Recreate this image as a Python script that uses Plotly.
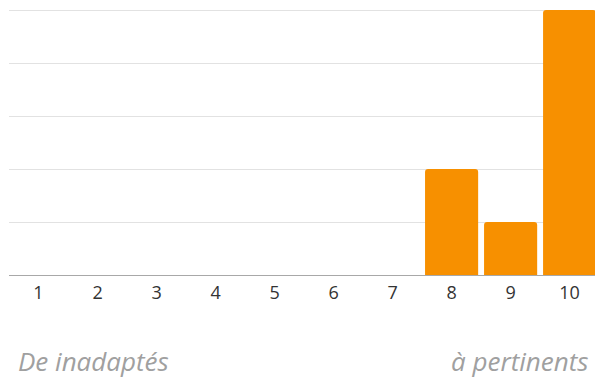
import plotly.graph_objects as go

categories = ["1", "2", "3", "4", "5", "6", "7", "8", "9", "10"]
values = [0, 0, 0, 0, 0, 0, 0, 2, 1, 5]
left_label = "De inadaptés"
right_label = "à pertinents"

fig = go.Figure(go.Bar(
    x=categories, y=values,
    marker=dict(color="#f79000", line=dict(width=0), cornerradius=3),
    hoverinfo="skip",
))

fig.update_layout(
    width=595, height=381,
    margin=dict(l=9, r=0, t=9, b=106),
    paper_bgcolor="white", plot_bgcolor="white",
    bargap=0.1,
    showlegend=False,
    font=dict(family="Open Sans", color="#333333"),
    xaxis=dict(
        type="category",
        range=[-0.5, 9.43],
        showgrid=False,
        showline=True, linecolor="#a8a8a8", linewidth=1,
        ticks="outside", ticklen=1, tickcolor="rgba(0,0,0,0)",
        tickfont=dict(size=18, color="#333333"),
        zeroline=False,
    ),
    yaxis=dict(
        range=[0, 5.02],
        tickvals=[1, 2, 3, 4, 5],
        showticklabels=False,
        showgrid=True, gridcolor="#e2e2e2", gridwidth=1,
        zeroline=False,
        showline=False,
    ),
    annotations=[
        dict(text=left_label, xref="paper", yref="paper", x=0.012, y=-0.322,
             xanchor="left", yanchor="middle", showarrow=False,
             font=dict(family="Open Sans", size=26, color="#a0a0a0", style="italic")),
        dict(text=right_label, xref="paper", yref="paper", x=0.993, y=-0.322,
             xanchor="right", yanchor="middle", showarrow=False,
             font=dict(family="Open Sans", size=26, color="#a0a0a0", style="italic")),
    ],
)

fig.write_html("out.html")
